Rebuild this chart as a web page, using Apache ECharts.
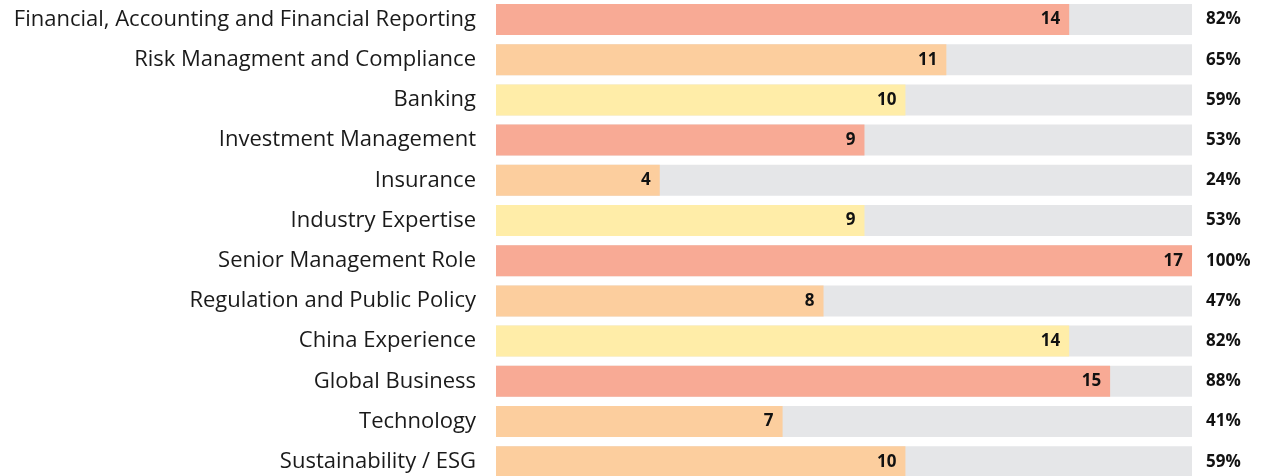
<!DOCTYPE html>
<html>
<head>
<meta charset="utf-8">
<script src="https://cdn.jsdelivr.net/npm/echarts@6/dist/echarts.min.js"></script>
<style>
  html, body { margin: 0; padding: 0; background: #fff; }
  #chart { width: 1262px; height: 476px; }
</style>
</head>
<body>
<div id="chart"></div>
<script>
const categories = [
  'Financial, Accounting and Financial Reporting',
  'Risk Managment and Compliance',
  'Banking',
  'Investment Management',
  'Insurance',
  'Industry Expertise',
  'Senior Management Role',
  'Regulation and Public Policy',
  'China Experience',
  'Global Business',
  'Technology',
  'Sustainability / ESG'
];
const counts = [14, 11, 10, 9, 4, 9, 17, 8, 14, 15, 7, 10];
const percents = [82, 65, 59, 53, 24, 53, 100, 47, 82, 88, 41, 59];
const total = 17;

const SALMON = '#F8AA95', PEACH = '#FCCE9E', YELLOW = '#FFEDA8';
const barColors = [SALMON, PEACH, YELLOW, SALMON, PEACH, YELLOW, SALMON, PEACH, YELLOW, SALMON, PEACH, PEACH];

const FONT = '"Open Sans", sans-serif';

const chart = echarts.init(document.getElementById('chart'), null, { renderer: 'canvas' });

chart.setOption({
  backgroundColor: '#fff',
  animation: false,
  grid: {
    left: 496,
    width: 696,
    top: -0.6,
    height: 482.4,
    containLabel: false,
    outerBoundsMode: 'none'
  },
  xAxis: {
    type: 'value',
    min: 0,
    max: total,
    show: false
  },
  yAxis: {
    type: 'category',
    inverse: true,
    data: categories,
    axisLine: { show: false },
    axisTick: { show: false },
    splitLine: { show: false },
    axisLabel: {
      margin: 20,
      fontFamily: FONT,
      fontSize: 22,
      color: '#1a1a1a'
    }
  },
  series: [
    {
      name: 'total',
      type: 'bar',
      barWidth: 31,
      barGap: '-100%',
      silent: true,
      itemStyle: { color: '#E5E6E8' },
      label: {
        show: true,
        position: 'right',
        distance: 14,
        fontFamily: FONT,
        fontWeight: 'bold',
        fontSize: 17,
        color: '#111',
        formatter: p => percents[p.dataIndex] + '%'
      },
      data: categories.map(() => total)
    },
    {
      name: 'count',
      type: 'bar',
      barWidth: 31,
      barGap: '-100%',
      label: {
        show: true,
        position: 'insideRight',
        distance: 9,
        fontFamily: FONT,
        fontWeight: 'bold',
        fontSize: 17,
        color: '#111'
      },
      data: counts.map((v, i) => ({ value: v, itemStyle: { color: barColors[i] } }))
    }
  ]
});
</script>
</body>
</html>
